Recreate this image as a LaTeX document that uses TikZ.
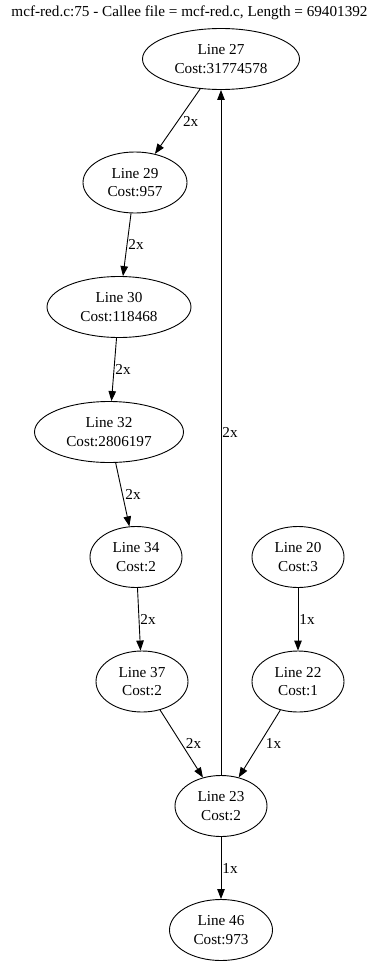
\documentclass[tikz,border=0pt]{standalone}
\usepackage{fontspec}
\setmainfont{Liberation Serif}
\usetikzlibrary{shapes.geometric,arrows.meta}

\begin{document}
\begin{tikzpicture}[x=1pt,y=-1pt,
  font=\fontsize{15.2}{18.5}\selectfont,
  callnode/.style={draw, line width=0.9pt, ellipse, inner sep=0pt, align=center,
    minimum height=61pt},
  callee/.style={draw, line width=0.9pt, -{Triangle[length=10pt,width=7.5pt]}},
  lbl/.style={inner sep=0pt, anchor=west, xshift=1pt}
]
  % canvas
  \fill[white] (0,0) rectangle (369,961);
  \useasboundingbox (0,0) rectangle (369,961);

  % heading
  \node[inner sep=0pt] (title) at (189.5,13) {mcf-red.c:75 - Callee file = mcf-red.c, Length = 69401392};

  % call-site nodes
  \node[callnode, minimum width=157pt] (n27) at (221,59)    {Line 27\\Cost:31774578};
  \node[callnode, minimum width=104pt] (n29) at (135,182.5) {Line 29\\Cost:957};
  \node[callnode, minimum width=144pt] (n30) at (119,307)   {Line 30\\Cost:118468};
  \node[callnode, minimum width=149pt] (n32) at (109,432)   {Line 32\\Cost:2806197};
  \node[callnode, minimum width=92pt]  (n34) at (136,557)   {Line 34\\Cost:2};
  \node[callnode, minimum width=92pt]  (n37) at (142,681.5) {Line 37\\Cost:2};
  \node[callnode, minimum width=92pt]  (n20) at (298,557)   {Line 20\\Cost:3};
  \node[callnode, minimum width=92pt]  (n22) at (298,681.5) {Line 22\\Cost:1};
  \node[callnode, minimum width=92pt]  (n23) at (221,806)   {Line 23\\Cost:2};
  \node[callnode, minimum width=103pt] (n46) at (221,930)   {Line 46\\Cost:973};

  % call edges with counts
  \draw[callee] (n27) -- node[lbl, pos=0.5, xshift=4pt] {2x} (n29);
  \draw[callee] (n29) -- node[lbl, pos=0.5] {2x} (n30);
  \draw[callee] (n30) -- node[lbl, pos=0.5] {2x} (n32);
  \draw[callee] (n32) -- node[lbl, pos=0.5, xshift=1.5pt] {2x} (n34);
  \draw[callee] (n34) -- node[lbl, pos=0.5] {2x} (n37);
  \draw[callee] (n20) -- node[lbl, pos=0.5] {1x} (n22);
  \draw[callee] (n37) -- node[lbl, pos=0.5, xshift=3pt] {2x} (n23);
  \draw[callee] (n22) -- node[lbl, pos=0.5, xshift=5pt] {1x} (n23);
  \draw[callee] (n23) -- node[lbl, pos=0.5] {1x} (n46);
  \draw[callee] (n23) -- node[lbl, pos=0.5] {2x} (n27);
\end{tikzpicture}
\end{document}
